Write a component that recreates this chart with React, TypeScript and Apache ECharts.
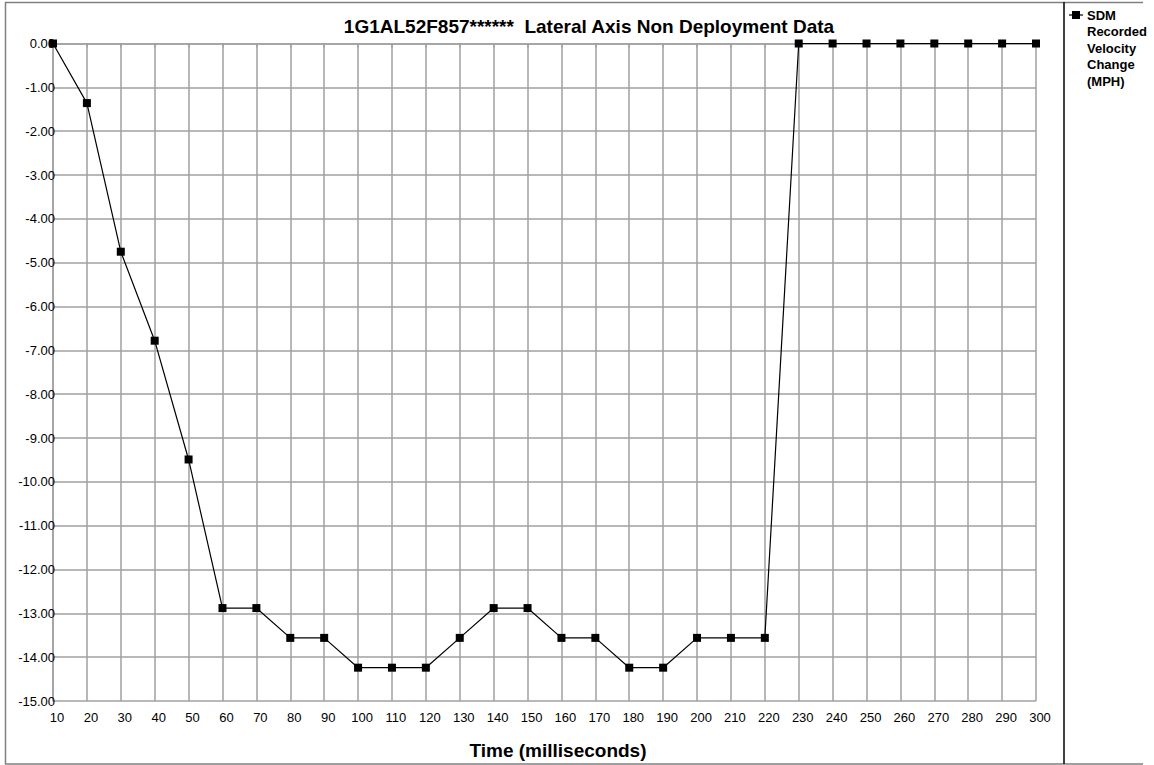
import React, { useEffect, useRef } from "react";
import * as echarts from "echarts";

const TITLE = "1G1AL52F857******  Lateral Axis Non Deployment Data";
const X_NAME = "Time (milliseconds)";
const SERIES_NAME = "SDM Recorded Velocity Change (MPH)";
const LEGEND_LINES = ["SDM", "Recorded", "Velocity", "Change", "(MPH)"];

const times = [10, 20, 30, 40, 50, 60, 70, 80, 90, 100, 110, 120, 130, 140, 150, 160, 170, 180, 190, 200, 210, 220, 230, 240, 250, 260, 270, 280, 290, 300];
const velocity = [0, -1.36, -4.75, -6.78, -9.49, -12.88, -12.88, -13.56, -13.56, -14.24, -14.24, -14.24, -13.56, -12.88, -12.88, -13.56, -13.56, -14.24, -14.24, -13.56, -13.56, -13.56, 0, 0, 0, 0, 0, 0, 0, 0];

const FONT = "Liberation Sans, Arial, Helvetica, sans-serif";
const GRID_COLOR = "#a0a0a0";

export default function App() {
  const ref = useRef<HTMLDivElement>(null);
  useEffect(() => {
    if (!ref.current) return;
    const chart = echarts.init(ref.current, undefined, { renderer: "svg" });
    const legendGraphics: any[] = [
      { type: "line", shape: { x1: 1069, y1: 15, x2: 1083, y2: 15 }, style: { stroke: "#000", lineWidth: 1.2 } },
      { type: "rect", shape: { x: 1072, y: 11, width: 8, height: 8 }, style: { fill: "#000" } },
    ];
    LEGEND_LINES.forEach((t, i) => {
      legendGraphics.push({
        type: "text",
        x: 1087,
        y: 15 + i * 16.5,
        style: { text: t, fill: "#000", font: `bold 13px ${FONT}`, textVerticalAlign: "middle", textAlign: "left" },
      });
    });
    chart.setOption({
      animation: false,
      backgroundColor: "#fff",
      textStyle: { fontFamily: FONT },
      title: {
        text: TITLE,
        left: 584,
        top: 12,
        textAlign: "center",
        textStyle: { fontSize: 19, fontWeight: "bold", color: "#000", fontFamily: FONT },
      },
      grid: { left: 53, right: 118, top: 43.5, bottom: 63, containLabel: false },
      xAxis: {
        type: "value",
        min: 10,
        max: 300,
        interval: 10,
        name: X_NAME,
        nameLocation: "middle",
        nameGap: 40,
        nameTextStyle: { fontSize: 19, fontWeight: "bold", color: "#000", fontFamily: FONT, padding: [0, 0, 0, 27] },
        axisLine: { show: true, lineStyle: { color: GRID_COLOR, width: 1.5 } },
        axisTick: { show: true, length: 4, lineStyle: { color: GRID_COLOR, width: 1.5 } },
        axisLabel: { fontSize: 13, color: "#000", margin: 10, padding: [0, 0, 0, 8], fontFamily: FONT },
        splitLine: { show: true, lineStyle: { color: GRID_COLOR, width: 1.5 } },
      },
      yAxis: {
        type: "value",
        min: -15,
        max: 0,
        interval: 1,
        axisLine: { show: true, lineStyle: { color: GRID_COLOR, width: 1.5 } },
        axisTick: { show: false },
        axisLabel: {
          fontSize: 13,
          color: "#000",
          margin: -2,
          fontFamily: FONT,
          formatter: (v: number) => v.toFixed(2),
        },
        splitLine: { show: true, lineStyle: { color: GRID_COLOR, width: 1.5 } },
      },
      series: [
        {
          name: SERIES_NAME,
          type: "line",
          data: times.map((t, i) => [t, velocity[i]]),
          symbol: "rect",
          symbolSize: 8,
          lineStyle: { color: "#000", width: 1.2 },
          itemStyle: { color: "#000" },
          z: 5,
        },
      ],
      graphic: [
        {
          type: "polyline",
          shape: { points: [[1143, 2.5], [5.5, 2.5], [5.5, 764], [1143, 764]] },
          style: { stroke: "#808080", fill: "none", lineWidth: 1.5 },
          silent: true,
        },
        {
          type: "line",
          shape: { x1: 1064, y1: 2, x2: 1064, y2: 764 },
          style: { stroke: "#000", lineWidth: 1.5 },
          silent: true,
        },
        ...legendGraphics,
      ],
    });
    return () => chart.dispose();
  }, []);
  return <div ref={ref} style={{ width: 1154, height: 765, position: "absolute", left: 0, top: 0 }} />;
}
